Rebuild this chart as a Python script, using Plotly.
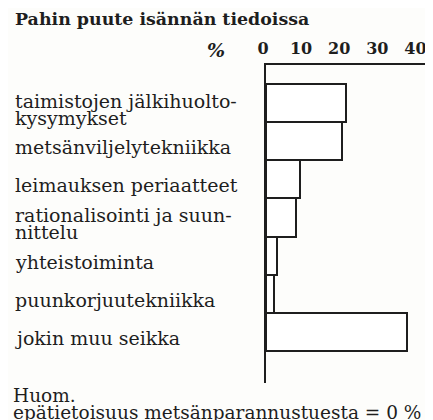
import plotly.graph_objects as go

# === Data ===
title_text = "Pahin puute isännän tiedoissa"
categories = [
    "taimistojen jälkihuolto-\nkysymykset",
    "metsänviljelytekniikka",
    "leimauksen periaatteet",
    "rationalisointi ja suun-\nnittelu",
    "yhteistoiminta",
    "puunkorjuutekniikka",
    "jokin muu seikka",
]
percent = [21, 20, 9, 8, 3, 2, 37]
tick_values = [0, 10, 20, 30, 40]
note_lines = ["Huom.", "epätietoisuus metsänparannustuesta = 0 %"]

# === Layout constants (pixels of the reference) ===
OFF = 8                     # default body margin of the page
W, H = 433 - OFF, 420 - OFF
L, R, T, B = 266 - OFF, 0, 65 - OFF, 37
ink = "#1e1e1e"
serif = "DejaVu Serif"


def px_x(px):
    return (px - OFF - L) / (W - L - R)


def px_y(py):
    return (H - B - (py - OFF)) / (H - T - B)


fig = go.Figure()
fig.add_trace(go.Bar(
    x=percent,
    y=list(range(len(categories))),
    orientation="h",
    marker=dict(color="white", line=dict(color=ink, width=2)),
    hoverinfo="x",
))

annotations = []
# category labels, left aligned in the margin
for i, cat in enumerate(categories):
    lines = cat.split("\n")
    n = len(lines)
    for j, line in enumerate(lines):
        annotations.append(dict(
            text=line, xref="paper", x=px_x(13), xanchor="left",
            yref="y", y=i, yanchor="middle",
            yshift=-6 + ((n - 1) / 2 - j) * 17,
            showarrow=False, font=dict(family=serif, size=19, color=ink),
        ))

annotations.append(dict(
    text="<b><i>%</i></b>", xref="paper", x=px_x(216), xanchor="center",
    yref="paper", y=px_y(50), yanchor="middle", showarrow=False,
    font=dict(family=serif, size=19, color=ink),
))
annotations.append(dict(
    text="<b>" + title_text + "</b>", xref="paper", x=px_x(13), xanchor="left",
    yref="paper", y=px_y(19), yanchor="middle", showarrow=False,
    font=dict(family=serif, size=17.4, color=ink),
))
for k, line in enumerate(note_lines):
    annotations.append(dict(
        text=line, xref="paper", x=px_x(11), xanchor="left",
        yref="paper", y=px_y(395 + 17 * k), yanchor="middle", showarrow=False,
        font=dict(family=serif, size=18.5, color=ink),
    ))

fig.update_layout(
    width=W, height=H,
    margin=dict(l=L, r=R, t=T, b=B, pad=0),
    paper_bgcolor="#fdfdfb",
    plot_bgcolor="#fdfdfb",
    bargap=0,
    showlegend=False,
    annotations=annotations,
    xaxis=dict(
        side="top", range=[0, (W - L - R) / 3.81],
        tickvals=tick_values, ticktext=["<b>%d</b>" % v for v in tick_values],
        showgrid=False, zeroline=False, showline=True,
        linecolor=ink, linewidth=2, ticks="",
        ticklabelstandoff=3, ticklabelshift=-3,
        tickfont=dict(family=serif, size=16, color=ink),
    ),
    yaxis=dict(
        range=[7.34, -1.0], showticklabels=False, showgrid=False,
        zeroline=False, showline=True, linecolor=ink, linewidth=2, ticks="",
    ),
)

fig.write_html("out.html")
